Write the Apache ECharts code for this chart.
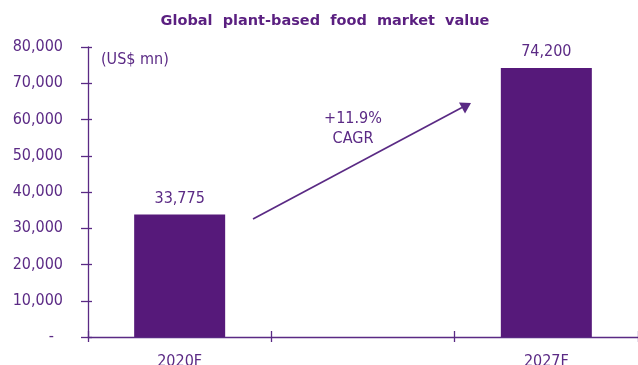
<!DOCTYPE html>
<html>
<head>
<meta charset="utf-8">
<script src="https://cdn.jsdelivr.net/npm/echarts@6/dist/echarts.min.js"></script>
<style>
  html, body { margin: 0; padding: 0; background: #fff; }
  #chart { width: 638px; height: 365px; }
</style>
</head>
<body>
<div id="chart"></div>
<script>
// Market value by year (US$ mn); the middle slot is an empty spacer category
const categories = ['2020F', '', '2027F'];
const marketValue = [33775, null, 74200];
const yTicks = { min: 0, max: 80000, interval: 10000 };
const cagrText = ['+11.9%', 'CAGR'];

const FONT = '"DejaVu Sans Condensed", "DejaVu Sans", Verdana, sans-serif';
const TITLE_FONT = '"DejaVu Sans", Verdana, sans-serif';
const AXIS = '#5a2a84';
const TEXT = '#5b2a85';
const BAR = '#56197a';

const fmt = v => v === 0 ? '-  ' : v.toLocaleString('en-US');

const chart = echarts.init(document.getElementById('chart'), null, { renderer: 'canvas' });

chart.setOption({
  animation: false,
  title: {
    text: 'Global  plant-based  food  market  value',
    left: 320, top: 9, textAlign: 'center',
    textStyle: { color: '#5a1f80', fontFamily: TITLE_FONT, fontWeight: 'bold', fontSize: 14.5 }
  },
  grid: { left: 88, right: 0, top: 47, bottom: 28, containLabel: false, outerBoundsMode: 'none' },
  xAxis: [
    {
      type: 'category', data: categories, position: 'bottom',
      axisLine: { lineStyle: { color: AXIS, width: 1.3 } },
      axisTick: { show: true, length: 5, lineStyle: { color: AXIS, width: 1.3 } },
      axisLabel: { color: TEXT, fontFamily: FONT, fontSize: 16, margin: 17 }
    },
    {
      type: 'category', data: categories, position: 'bottom',
      axisLine: { show: false },
      axisTick: { show: true, inside: true, length: 6, lineStyle: { color: AXIS, width: 1.3 } },
      axisLabel: { show: false }
    }
  ],
  yAxis: [
    {
      type: 'value', min: yTicks.min, max: yTicks.max, interval: yTicks.interval, position: 'left',
      axisLine: { show: true, lineStyle: { color: AXIS, width: 1.3 } },
      axisTick: { show: true, length: 7, lineStyle: { color: AXIS, width: 1.3 } },
      splitLine: { show: false },
      axisLabel: { color: TEXT, fontFamily: FONT, fontSize: 16, margin: 25, formatter: fmt }
    },
    {
      type: 'value', min: yTicks.min, max: yTicks.max, interval: yTicks.interval, position: 'left',
      axisLine: { show: false },
      axisTick: { show: true, inside: true, length: 4, lineStyle: { color: AXIS, width: 1.3 } },
      splitLine: { show: false },
      axisLabel: { show: false }
    }
  ],
  series: [{
    type: 'bar', data: marketValue, barWidth: 91,
    itemStyle: { color: BAR },
    label: {
      show: true, position: 'top', distance: 8,
      color: TEXT, fontFamily: FONT, fontSize: 16,
      formatter: p => p.value.toLocaleString('en-US')
    }
  }],
  graphic: [
    {
      type: 'text', left: 101, top: 52,
      style: { text: '(US$ mn)', fill: TEXT, font: '16px ' + FONT }
    },
    {
      type: 'text', x: 353, y: 129,
      style: { text: cagrText.join('\n'), fill: TEXT, font: '16px ' + FONT,
               align: 'center', verticalAlign: 'middle', lineHeight: 20 }
    },
    {
      type: 'line',
      shape: { x1: 253, y1: 219, x2: 462, y2: 107.5 },
      style: { stroke: AXIS, lineWidth: 1.7 }
    },
    {
      type: 'polygon',
      shape: { points: [[471, 103], [459, 102.5], [465, 113.5]] },
      style: { fill: AXIS }
    }
  ]
});
</script>
</body>
</html>
